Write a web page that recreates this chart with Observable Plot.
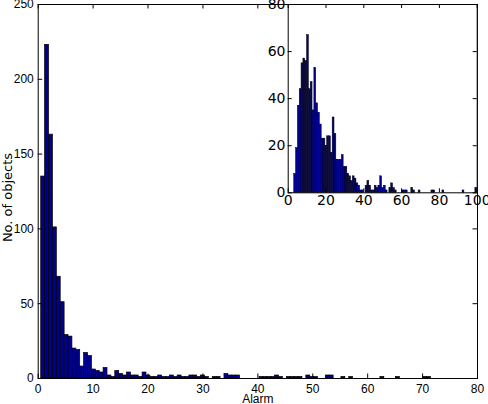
<!DOCTYPE html>
<html>
<head>
<meta charset="utf-8">
<script src="https://cdn.jsdelivr.net/npm/d3@7"></script>
<script src="https://cdn.jsdelivr.net/npm/@observablehq/plot@0.6"></script>
<style>
  html, body { margin: 0; padding: 0; background: white; }
  #wrap { position: relative; width: 488px; height: 404px; }
  #inset { position: absolute; left: 240px; top: 0px; }
</style>
</head>
<body>
<div id="wrap"><div id="main"></div><div id="inset"></div></div>
<script>
// ---------- data: main histogram (Alarm) ----------
const mainBinStart = 0.55;
const mainBinWidth = 0.71;
const mainCounts = [
  135, 223, 163, 101, 68, 51, 29, 28, 20, 19,
  8, 17, 15, 6, 5, 4, 7, 2, 1, 5,
  3, 2, 4, 2, 2, 1, 4, 2, 1, 1,
  2, 1, 1, 2, 1, 2, 1, 1, 2, 2,
  1, 2, 1, 0, 1, 1, 0, 3, 2, 2,
  2, 0, 0, 0, 0, 0, 1, 1, 1, 1,
  2, 1, 0, 1, 1, 1, 1, 0, 2, 1,
  1, 0, 0, 2, 2, 0, 0, 1, 0, 1,
  0, 0, 0, 0, 0, 0, 0, 1, 0, 0,
  0, 1, 0, 0, 0, 0, 0, 0, 1, 1
];
const mainXTicks = [0, 10, 20, 30, 40, 50, 60, 70, 80];
const mainYTicks = [0, 50, 100, 150, 200, 250];
const mainXLabel = "Alarm";
const mainYLabel = "No. of objects";

// ---------- data: inset histogram ----------
const insetBinStart = 3.2;
const insetBinWidth = 0.968;
const insetCounts = [
  8, 19, 37, 44, 55, 57, 56, 67, 44, 47,
  35, 53, 38, 34, 29, 23, 23, 20, 24, 24,
  17, 32, 25, 14, 14, 14, 16, 11, 11, 8,
  7, 5, 7, 6, 4, 3, 1, 1, 0, 3,
  5, 3, 1, 1, 3, 2, 3, 7, 2, 3,
  1, 0, 2, 4, 2, 1, 0, 0, 0, 1,
  1, 1, 0, 0, 2, 1, 0, 0, 1, 0,
  0, 0, 0, 0, 0, 1, 1, 0, 0, 0,
  0, 1, 0, 0, 0, 0, 0, 0, 0, 0,
  0, 0, 1, 0, 0, 0, 0, 0, 0, 2
];
const insetXTicks = [0, 20, 40, 60, 80, 100];
const insetYTicks = [0, 20, 40, 60, 80];

// ---------- build bins ----------
const toBins = (counts, start, w) =>
  counts.map((c, i) => ({x1: start + i * w, x2: start + (i + 1) * w, count: c}));
const mainBins = toBins(mainCounts, mainBinStart, mainBinWidth);
const insetBins = toBins(insetCounts, insetBinStart, insetBinWidth);

const barFill = "#00008f";

// ---------- main chart ----------
const W = 488, H = 404;
const mL = 37.7, mR = 11, mT = 4, mB = 26;
const mPlotH = H - mT - mB;
const mPlotW = W - mL - mR;
const tickLen = 4.5;

const mainChart = Plot.plot({
  width: W, height: H,
  marginLeft: mL, marginRight: mR, marginTop: mT, marginBottom: mB,
  style: {fontFamily: "'Liberation Sans', Arial, sans-serif", fontSize: "12px", background: "white", overflow: "visible", color: "black"},
  x: {domain: [0, 80]},
  y: {domain: [0, 250]},
  marks: [
    Plot.rectY(mainBins, {x1: "x1", x2: "x2", y: "count", fill: barFill, stroke: "black", strokeWidth: 0.7}),
    Plot.tickX(mainXTicks, {x: d => d, insetTop: mPlotH - tickLen, stroke: "black"}),
    Plot.tickX(mainXTicks, {x: d => d, insetBottom: mPlotH - tickLen, stroke: "black"}),
    Plot.tickY(mainYTicks, {y: d => d, insetRight: mPlotW - tickLen, stroke: "black"}),
    Plot.tickY(mainYTicks, {y: d => d, insetLeft: mPlotW - tickLen, stroke: "black"}),
    Plot.frame({stroke: "black"}),
    Plot.axisX(mainXTicks, {tickSize: 0, tickPadding: 5.5, label: null}),
    Plot.axisY(mainYTicks, {tickSize: 0, tickPadding: 4.4, label: null}),
    Plot.text([mainXLabel], {frameAnchor: "bottom", dy: 24.3, lineAnchor: "bottom", textAnchor: "middle", fontSize: 12}),
    Plot.text([mainYLabel], {frameAnchor: "left", dx: -26.5, dy: 6, rotate: -90, lineAnchor: "bottom", textAnchor: "middle",
      fontSize: 13, fontFamily: "'DejaVu Sans', sans-serif"})
  ]
});
document.getElementById("main").appendChild(mainChart);

// ---------- inset chart ----------
const IW = 248, IH = 215;
const iL = 47.7, iR = 11.3, iT = 4, iB = IH - 192.3;
const iPlotH = IH - iT - iB;
const iPlotW = IW - iL - iR;
const iTick = 4;

const insetChart = Plot.plot({
  width: IW, height: IH,
  marginLeft: iL, marginRight: iR, marginTop: iT, marginBottom: iB,
  style: {fontFamily: "'DejaVu Sans', sans-serif", fontSize: "14px", background: "transparent", overflow: "visible", color: "black"},
  x: {domain: [0, 100]},
  y: {domain: [0, 80]},
  marks: [
    Plot.frame({fill: "white", stroke: "none"}),
    Plot.rectY(insetBins, {x1: "x1", x2: "x2", y: "count", fill: barFill, stroke: "black", strokeWidth: 0.5}),
    Plot.tickX(insetXTicks, {x: d => d, insetTop: iPlotH - iTick, stroke: "black"}),
    Plot.tickX(insetXTicks, {x: d => d, insetBottom: iPlotH - iTick, stroke: "black"}),
    Plot.tickY(insetYTicks, {y: d => d, insetRight: iPlotW - iTick, stroke: "black"}),
    Plot.tickY(insetYTicks, {y: d => d, insetLeft: iPlotW - iTick, stroke: "black"}),
    Plot.frame({stroke: "black"}),
    Plot.axisX(insetXTicks, {tickSize: 0, tickPadding: 2.7, label: null}),
    Plot.axisY(insetYTicks, {tickSize: 0, tickPadding: 2.7, label: null})
  ]
});
document.getElementById("inset").appendChild(insetChart);
</script>
</body>
</html>
